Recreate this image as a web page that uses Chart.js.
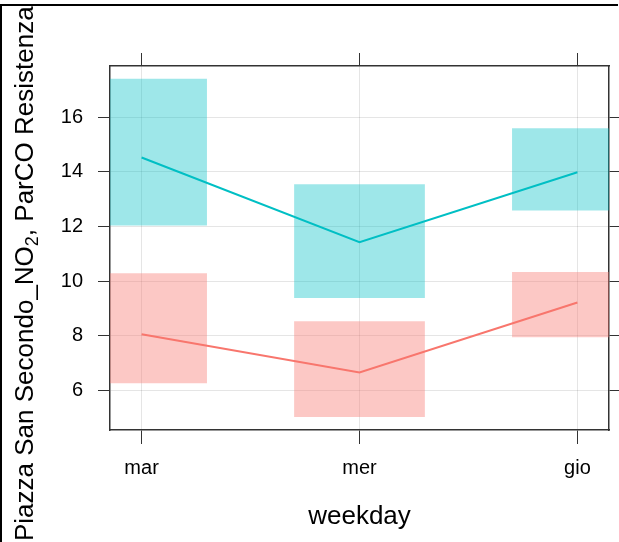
<!DOCTYPE html>
<html>
<head>
<meta charset="utf-8">
<script src="https://cdn.jsdelivr.net/npm/chart.js@4.4.1/dist/chart.umd.min.js"></script>
<style>
  html, body { margin: 0; padding: 0; background: #fff; }
  canvas { display: block; }
</style>
</head>
<body>
<canvas id="chart" width="619" height="542"></canvas>
<script>
// weekdays on the x axis
const categories = ['mar', 'mer', 'gio'];
const yTicks = [6, 8, 10, 12, 14, 16];

// Piazza San Secondo_NO2 (red)
const noFit = [8.06, 6.66, 9.22];
const noLow = [6.26, 5.03, 7.95];
const noHigh = [10.29, 8.53, 10.34];

// ParCO Resistenza (cyan)
const coFit = [14.53, 11.43, 13.99];
const coLow = [12.04, 9.38, 12.59];
const coHigh = [17.41, 13.55, 15.6];

const yTitleParts = ['Piazza San Secondo_NO', '2', ', ParCO Resistenza'];
const xTitle = 'weekday';

const RED = '#F8766D';
const CYAN = '#00BFC4';
const FONT = '"Liberation Sans", Arial, sans-serif';

Chart.defaults.font.family = FONT;
Chart.defaults.color = '#000';

function pts(vals) {
  return vals.map((v, i) => ({ x: i, y: v }));
}
function band(lo, hi) {
  return lo.map((v, i) => ({ x: i, y: [v, hi[i]] }));
}
function setTicks(list) {
  return (s) => { s.ticks = list.map(v => ({ value: v })); };
}

// outer frame and the rotated y title (with subscript 2)
const frameAndTitle = {
  id: 'frameAndTitle',
  afterDraw(chart) {
    const ctx = chart.ctx;
    ctx.save();
    ctx.fillStyle = '#000';
    ctx.fillRect(0, 4, 618, 2);
    ctx.fillRect(0, 4, 2, 538);
    ctx.translate(33, 541);
    ctx.rotate(-Math.PI / 2);
    ctx.textBaseline = 'alphabetic';
    ctx.textAlign = 'left';
    let x = 0;
    ctx.font = '26px ' + FONT;
    ctx.fillText(yTitleParts[0], x, 0);
    x += ctx.measureText(yTitleParts[0]).width;
    ctx.font = '18px ' + FONT;
    ctx.fillText(yTitleParts[1], x, 5);
    x += ctx.measureText(yTitleParts[1]).width;
    ctx.font = '26px ' + FONT;
    ctx.fillText(yTitleParts[2], x, 0);
    ctx.restore();
  }
};

const gridColor = 'rgba(0,0,0,0.1)';
const axisColor = '#333';

const myChart = new Chart(document.getElementById('chart').getContext('2d'), {
  type: 'bar',
  data: {
    datasets: [
      { type: 'line', label: 'Piazza San Secondo_NO2', data: pts(noFit), borderColor: RED, borderWidth: 2, pointRadius: 0, tension: 0, order: 0 },
      { type: 'line', label: 'ParCO Resistenza', data: pts(coFit), borderColor: CYAN, borderWidth: 2, pointRadius: 0, tension: 0, order: 0 },
      { label: 'NO2 band', data: band(noLow, noHigh), backgroundColor: 'rgba(248,118,109,0.4)', borderWidth: 0, order: 1 },
      { label: 'ParCO band', data: band(coLow, coHigh), backgroundColor: 'rgba(0,191,196,0.38)', borderWidth: 0, order: 1 }
    ]
  },
  options: {
    responsive: false,
    animation: false,
    devicePixelRatio: 1,
    layout: { padding: 0 },
    plugins: { legend: { display: false }, tooltip: { enabled: false } },
    datasets: { bar: { grouped: false, barPercentage: 1, categoryPercentage: 0.6 } },
    scales: {
      x: {
        type: 'linear', position: 'bottom', min: -0.145, max: 2.145, offset: false,
        afterBuildTicks: setTicks([0, 1, 2]),
        afterFit: s => { s.height = 112; },
        ticks: { callback: v => categories[v], font: { size: 20 }, color: '#000', padding: 12, maxRotation: 0, autoSkip: false },
        grid: { color: gridColor, tickColor: axisColor, tickLength: 14, offset: false },
        border: { color: axisColor, width: 1.5 },
        title: { display: true, text: xTitle, font: { size: 26 }, color: '#000', padding: { top: 0, bottom: 10 } }
      },
      x2: {
        type: 'linear', position: 'top', min: -0.145, max: 2.145, offset: false,
        afterBuildTicks: setTicks([0, 1, 2]),
        afterFit: s => { s.height = 66; },
        ticks: { display: false },
        grid: { drawOnChartArea: false, tickColor: axisColor, tickLength: 13, offset: false },
        border: { color: axisColor, width: 1.5 }
      },
      y: {
        type: 'linear', position: 'left', min: 4.55, max: 17.88,
        afterBuildTicks: setTicks(yTicks),
        afterFit: s => { s.width = 110; },
        ticks: { font: { size: 20 }, color: '#000', padding: 15 },
        grid: { color: gridColor, tickColor: axisColor, tickLength: 12 },
        border: { color: axisColor, width: 1.5 }
      },
      y2: {
        type: 'linear', position: 'right', min: 4.55, max: 17.88,
        afterBuildTicks: setTicks(yTicks),
        afterFit: s => { s.width = 10; },
        ticks: { display: false },
        grid: { drawOnChartArea: false, tickColor: axisColor, tickLength: 10 },
        border: { color: axisColor, width: 1.5 }
      }
    }
  },
  plugins: [frameAndTitle]
});
</script>
</body>
</html>
